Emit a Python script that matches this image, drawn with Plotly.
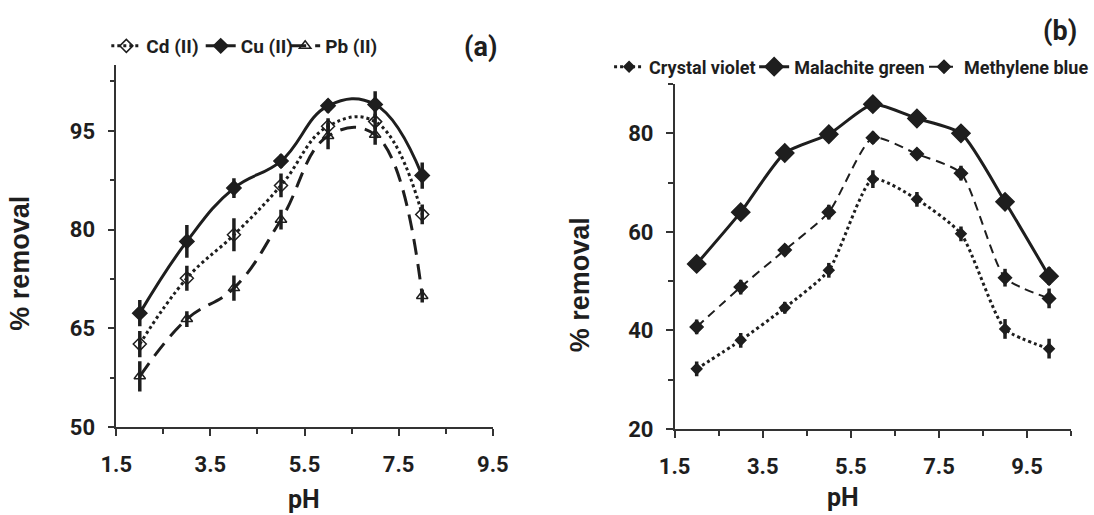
import plotly.graph_objects as go

# ---- data panel (a) ----
ph_a = [2, 3, 4, 5, 6, 7, 8]
cd = [62.6, 72.6, 79.2, 86.7, 95.7, 96.4, 82.3]
cd_err = [2.0, 1.9, 2.5, 1.8, 1.2, 1.2, 1.5]
cu = [67.3, 78.2, 86.3, 90.4, 98.8, 99.0, 88.2]
cu_err = [2.0, 2.5, 1.5, 1.0, 1.0, 2.0, 2.0]
pb = [57.7, 66.4, 71.1, 81.5, 94.2, 94.4, 69.9]
pb_err = [2.3, 1.2, 1.9, 1.5, 2.0, 1.5, 1.0]

# ---- data panel (b) ----
ph_b = [2, 3, 4, 5, 6, 7, 8, 9, 10]
cv = [32.2, 38.0, 44.6, 52.2, 70.7, 66.6, 59.6, 40.3, 36.3]
cv_err = [1.5, 1.5, 1.2, 1.5, 1.8, 1.5, 1.5, 2.0, 2.0]
mg = [53.5, 64.0, 76.0, 79.8, 85.9, 83.0, 80.0, 66.1, 51.0]
mg_err = [1.5, 1.2, 1.2, 1.2, 1.2, 1.0, 1.0, 1.5, 1.8]
mb = [40.7, 48.8, 56.3, 64.0, 79.1, 75.8, 71.9, 50.7, 46.5]
mb_err = [1.5, 1.5, 1.2, 1.5, 1.2, 1.0, 1.5, 1.8, 2.0]

FONT = "Roboto, sans-serif"
INK = "#1e1e1e"
ERR = dict(type="data", thickness=3.5, width=0, color=INK)

fig = go.Figure()

def add(x, y, err, name, dash, symbol, size, xa, ya, legend, lw=2.5, smooth=1.0):
    fig.add_trace(go.Scatter(
        x=x, y=y, name=name, mode="lines+markers",
        line=dict(color=INK, width=lw, dash=dash, shape="spline", smoothing=smooth),
        marker=dict(symbol=symbol, size=size, color=INK,
                    line=dict(color=INK, width=1.5)),
        error_y=dict(ERR, array=err),
        xaxis=xa, yaxis=ya, legend=legend))

add(ph_a, cd, cd_err, "Cd (II)", "dot", "diamond-open", 10, "x", "y", "legend", lw=3, smooth=1.2)
add(ph_a, cu, cu_err, "Cu (II)", "solid", "diamond", 11, "x", "y", "legend2", lw=3, smooth=1.2)
add(ph_a, pb, pb_err, "Pb (II)", "16px,9px", "triangle-up-open", 10, "x", "y", "legend3", lw=3, smooth=1.2)

add(ph_b, cv, cv_err, "Crystal violet", "dot", "diamond", 8, "x2", "y2", "legend4", lw=3, smooth=0.6)
add(ph_b, mg, mg_err, "Malachite green", "solid", "diamond", 14, "x2", "y2", "legend5", lw=3, smooth=0.6)
add(ph_b, mb, mb_err, "Methylene blue", "9px,6px", "diamond", 10, "x2", "y2", "legend6", lw=2, smooth=0.6)

tickfont = dict(family=FONT, size=22, color=INK, weight="bold")
minor_common = dict(ticks="outside", ticklen=5, tickwidth=1.5, tickcolor="#333")
axis_common = dict(showline=True, linecolor="#333", linewidth=1.5, ticks="outside",
                   ticklen=7, tickwidth=1.5, tickcolor="#333", showgrid=False,
                   zeroline=False, tickfont=tickfont, automargin=False)

W, H = 1094, 515
def px(x): return x / W
def py(y): return 1 - y / H

legend_font_a = dict(family=FONT, size=19, color=INK, weight="bold")
legend_font_b = dict(family=FONT, size=18, color=INK, weight="bold")
def leg(text_x, y, font):
    return dict(orientation="h", x=px(text_x - 40), y=py(y), xanchor="left", yanchor="middle",
                font=font, bgcolor="rgba(0,0,0,0)", itemwidth=30, borderwidth=0)

def note(text, x, y, size, family=FONT, angle=0):
    return dict(text=text, x=px(x), y=py(y), xref="paper", yref="paper", showarrow=False,
                xanchor="center", yanchor="middle", textangle=angle,
                font=dict(family=family, size=size, color=INK, weight="bold"))

fig.update_layout(
    width=W, height=H, paper_bgcolor="white", plot_bgcolor="white",
    margin=dict(l=0, r=0, t=0, b=0), showlegend=True,
    xaxis=dict(axis_common, domain=[px(117), px(496)], range=[1.5, 9.5], tick0=1.5, dtick=2,
               minor=dict(minor_common, dtick=1, tick0=1.5), anchor="y", ticklabelstandoff=10),
    yaxis=dict(axis_common, domain=[py(427), py(65)], range=[50, 105], tick0=50, dtick=15,
               minor=dict(minor_common, dtick=7.5, tick0=50), anchor="x", ticklabelstandoff=8),
    xaxis2=dict(axis_common, domain=[px(679), px(1078)], range=[1.5, 10.5], tick0=1.5, dtick=2,
                minor=dict(minor_common, dtick=1, tick0=1.5), anchor="y2", ticklabelstandoff=10),
    yaxis2=dict(axis_common, domain=[py(429), py(84)], range=[20, 90], tick0=20, dtick=20,
                minor=dict(minor_common, dtick=10, tick0=20), anchor="x2", ticklabelstandoff=8),
    legend=leg(147, 46, legend_font_a),
    legend2=leg(242, 46, legend_font_a),
    legend3=leg(327, 46, legend_font_a),
    legend4=leg(653, 67, legend_font_b),
    legend5=leg(799, 67, legend_font_b),
    legend6=leg(970, 67, legend_font_b),
    annotations=[
        note("(a)", 484, 47, 27),
        note("(b)", 1067, 31, 27),
        note("% removal", 20, 263, 27, "Liberation Sans, Arial, sans-serif", -90),
        note("% removal", 584, 285, 27, "Liberation Sans, Arial, sans-serif", -90),
        note("pH", 306, 499, 25),
        note("pH", 848, 497, 25),
    ],
)

fig.write_html("out.html")
